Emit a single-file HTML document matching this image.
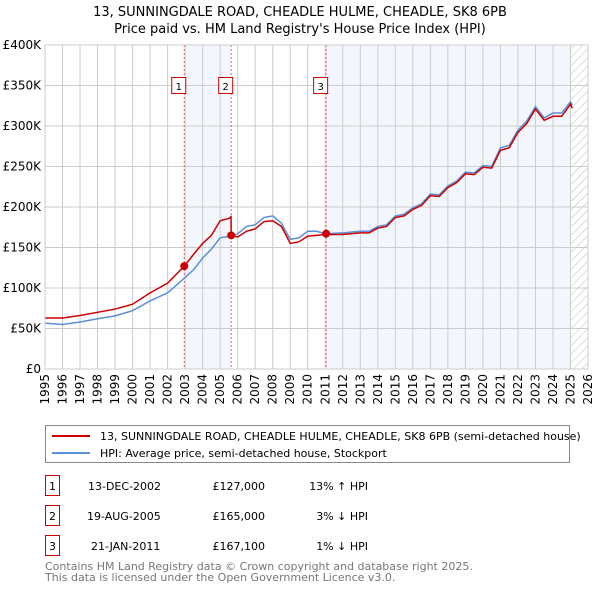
<!DOCTYPE html>
<html><head><meta charset="utf-8"><style>
body{margin:0;background:#fff;font-family:"Liberation Sans","DejaVu Sans",sans-serif;}
svg text{font-family:"DejaVu Sans","Liberation Sans",sans-serif;}
</style></head><body>
<svg id="c" width="600" height="590" viewBox="0 0 600 590" xmlns="http://www.w3.org/2000/svg">
<defs><pattern id="hatch" width="6" height="6" patternUnits="userSpaceOnUse" patternTransform="rotate(45)"><line x1="0" y1="0" x2="0" y2="6" stroke="#bbb" stroke-width="1"/></pattern></defs>
<text x="300" y="16" text-anchor="middle" font-size="13">13, SUNNINGDALE ROAD, CHEADLE HULME, CHEADLE, SK8 6PB</text>
<text x="300" y="33" text-anchor="middle" font-size="13">Price paid vs. HM Land Registry's House Price Index (HPI)</text>
<g id="plot"></g>
<g>
<rect x="45.5" y="425.5" width="524" height="37" fill="#fff" stroke="#888"/>
<line x1="52" y1="436" x2="90" y2="436" stroke="#cc0000" stroke-width="2"/>
<text x="100" y="440" font-size="11">13, SUNNINGDALE ROAD, CHEADLE HULME, CHEADLE, SK8 6PB (semi-detached house)</text>
<line x1="52" y1="453" x2="90" y2="453" stroke="#5b8fd6" stroke-width="2"/>
<text x="100" y="457" font-size="11">HPI: Average price, semi-detached house, Stockport</text>
</g>
<g font-size="11">
<rect x="45.5" y="475.5" width="14" height="20" fill="#fff" stroke="#cc0000"/><text x="52.5" y="490" text-anchor="middle">1</text>
<text x="88" y="490">13-DEC-2002</text><text x="265" y="490" text-anchor="end">£127,000</text><text x="368" y="490" text-anchor="end">13% ↑ HPI</text>
<rect x="45.5" y="505.5" width="14" height="20" fill="#fff" stroke="#cc0000"/><text x="52.5" y="520" text-anchor="middle">2</text>
<text x="87" y="520">19-AUG-2005</text><text x="265" y="520" text-anchor="end">£165,000</text><text x="368" y="520" text-anchor="end">3% ↓ HPI</text>
<rect x="45.5" y="535.5" width="14" height="20" fill="#fff" stroke="#cc0000"/><text x="52.5" y="550" text-anchor="middle">3</text>
<text x="91" y="550">21-JAN-2011</text><text x="265" y="550" text-anchor="end">£167,100</text><text x="368" y="550" text-anchor="end">1% ↓ HPI</text>
</g>
<text x="45" y="570" font-size="11" fill="#777">Contains HM Land Registry data © Crown copyright and database right 2025.</text>
<text x="45" y="581" font-size="11" fill="#777">This data is licensed under the Open Government Licence v3.0.</text>
</svg>
<script>
const hpiYears=[1995,1996,1997,1998,1999,2000,2001,2002,2003,2003.5,2004,2004.5,2005,2005.6,2006,2006.5,2007,2007.5,2008,2008.5,2009,2009.5,2010,2010.5,2011,2012,2013,2013.5,2014,2014.5,2015,2015.5,2016,2016.5,2017,2017.5,2018,2018.5,2019,2019.5,2020,2020.5,2021,2021.5,2022,2022.5,2023,2023.5,2024,2024.5,2025,2025.1];
const hpiValues=[56.6,55,58,62,65.6,72,84,94,113,123,137,148,162,164,167,176,178,187,189,180,160,162,170,170,167,168,170,170,176,178,189,191,199,204,216,215,226,232,243,242,251,250,273,276,295,306,324,310,316,316,330,326];
const propYears=[1995,1996,1997,1998,1999,2000,2001,2002,2002.95,2003.5,2004,2004.5,2005,2005.5,2005.62,2005.63,2006,2006.5,2007,2007.5,2008,2008.5,2009,2009.5,2010,2010.5,2011,2012,2013,2013.5,2014,2014.5,2015,2015.5,2016,2016.5,2017,2017.5,2018,2018.5,2019,2019.5,2020,2020.5,2021,2021.5,2022,2022.5,2023,2023.5,2024,2024.5,2025,2025.1];
const propValues=[63,63,66,70,74,80,94,106,127,142,155,165,183,186,188,165,163,170,173,182,183,176,155,157,164,165,166,166,168,168,174,176,187,189,197,202,214,213,224,230,241,240,249,248,270,273,292,303,321,307,312,312,327,322];
const saleDates=[2002.95,2005.63,2011.05];
const salePrices=[127,165,167.1];
const saleLabels=["1","2","3"];
const yTicks=[0,50,100,150,200,250,300,350,400];
const yTickLabels=["£0","£50K","£100K","£150K","£200K","£250K","£300K","£350K","£400K"];
const xTicks=[1995,1996,1997,1998,1999,2000,2001,2002,2003,2004,2005,2006,2007,2008,2009,2010,2011,2012,2013,2014,2015,2016,2017,2018,2019,2020,2021,2022,2023,2024,2025,2026];

const X0=45,X1=588,Y0=369,Y1=45;
const x=v=>X0+(v-1995)/(2026-1995)*(X1-X0);
const y=v=>Y0-v/400*(Y0-Y1);
const NS="http://www.w3.org/2000/svg";
const g=document.getElementById('plot');
function mk(t,a,p){const e=document.createElementNS(NS,t);for(const k in a)e.setAttribute(k,a[k]);(p||g).appendChild(e);return e;}
let e;
e=mk('rect',{x:x(saleDates[0]),y:Y1,width:x(saleDates[1])-x(saleDates[0]),height:Y0-Y1,fill:'#eef3fc',opacity:0.7});


e=mk('rect',{x:x(saleDates[2]),y:Y1,width:x(2025.05)-x(saleDates[2]),height:Y0-Y1,fill:'#eef3fc',opacity:0.7});


e=mk('rect',{x:x(2025.05),y:Y1,width:X1-x(2025.05),height:Y0-Y1,fill:'url(#hatch)'});


xTicks.forEach(t=>{
 e=mk('line',{x1:x(t),x2:x(t),y1:Y1,y2:Y0,stroke:'#ccc'});
 
 
 const tx=x(t)+4, ty=Y0+5;
 e=mk('text',{x:tx,y:ty,'text-anchor':'end','font-size':12,transform:'rotate(-90 '+tx+' '+ty+')'});
 e.textContent=t;
 
 
});
yTicks.forEach((t,i)=>{
 e=mk('line',{x1:X0,x2:X1,y1:y(t),y2:y(t),stroke:'#ccc'});
 
 
 e=mk('text',{x:X0-4,y:y(t)+4,'text-anchor':'end','font-size':12});
 e.textContent=yTickLabels[i];
 
 
});
saleDates.forEach((d,i)=>{
 e=mk('line',{x1:x(d),x2:x(d),y1:Y1,y2:Y0,stroke:'#e06060','stroke-dasharray':'2,2'});
 
 
});
e=mk('polyline',{points:hpiYears.map((t,i)=>x(t)+','+y(hpiValues[i])).join(' '),fill:'none',stroke:'#5b8fd6','stroke-width':1.5});


e=mk('polyline',{points:propYears.map((t,i)=>x(t)+','+y(propValues[i])).join(' '),fill:'none',stroke:'#cc0000','stroke-width':1.5});


saleDates.forEach((d,i)=>{
 e=mk('circle',{cx:x(d),cy:y(salePrices[i]),r:4,fill:'#cc0000'});
 
 
 e=mk('rect',{x:x(d)-12.5,y:77.5,width:14,height:16,fill:'#fff',stroke:'#cc0000'});
 
 
 e=mk('text',{x:x(d)-5.5,y:90,'text-anchor':'middle','font-size':10});
 e.textContent=saleLabels[i];
 
 
});
e=mk('rect',{x:X0,y:Y1,width:X1-X0,height:Y0-Y1,fill:'none',stroke:'#ccc'});


</script>
</body></html>
